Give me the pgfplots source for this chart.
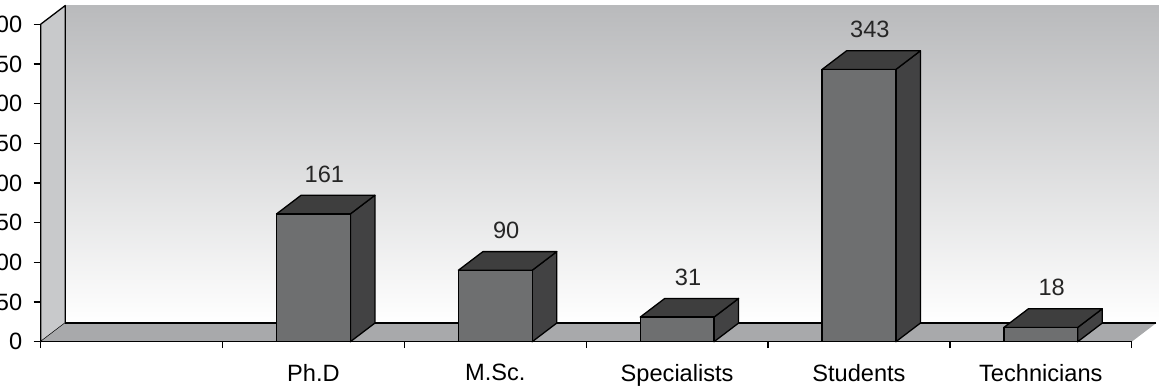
\documentclass[border=0pt]{standalone}
\usepackage{pgfplots}
\pgfplotsset{compat=1.18}
\usepackage{fontspec}
\setmainfont{Liberation Sans}
\newcommand{\fs}{\fontsize{23.6}{28.3}\selectfont}
\definecolor{wallTop}{RGB}{185,186,188}
\definecolor{sideWall}{RGB}{200,201,203}
\definecolor{floorC}{RGB}{168,169,171}
\definecolor{barFront}{RGB}{110,111,112}
\definecolor{barTop}{RGB}{62,62,62}
\definecolor{barSide}{RGB}{66,66,67}
\begin{document}
\begin{tikzpicture}
\begin{axis}[
  scale only axis, width=1091pt, height=317.5pt,
  xmin=-0.5, xmax=5.5, ymin=0, ymax=400,
  clip=false,
  axis line style={draw=none},
  tick pos=left,
  tick align=outside,
  ytick={0,50,...,400},
  xtick={0,...,5},
  xticklabels={,Ph.D,M.Sc.,Specialists,Students,Technicians},
  minor xtick={-0.5,0.5,...,5.5},
  major x tick style={draw=none},
  major tick length=7pt, minor tick length=6.5pt,
  tick style={black, line width=1.3pt},
  ticklabel style={font=\fs},
  yticklabel style={xshift=-8pt},
  xticklabel style={yshift=-12pt},
  /pgf/number format/assume math mode=true,
]
% back wall
\addplot[draw=none, top color=wallTop, bottom color=white] coordinates {(-0.365,23.5) (5.65,23.5) (5.65,423.5) (-0.365,423.5)} -- cycle;
% left wall
\addplot[fill=sideWall, draw=black, line width=1.3pt, line join=round] coordinates {(-0.5,0) (-0.365,23.5) (-0.365,423.5) (-0.5,400)} -- cycle;
% floor
\addplot[fill=floorC, draw=none] coordinates {(-0.5,0) (5.5,0) (5.635,23.5) (-0.365,23.5)} -- cycle;
\addplot[black, line width=1.3pt] coordinates {(-0.365,23.5) (5.635,23.5)};
\addplot[black, line width=1.3pt] coordinates {(-0.5,0) (5.5,0)};
% side faces
\addplot[fill=barSide, draw=black, line width=1.3pt, line join=round] coordinates {(1.203,0) (1.203,161) (1.338,184.5) (1.338,23.5)} -- cycle;
\addplot[fill=barSide, draw=black, line width=1.3pt, line join=round] coordinates {(2.203,0) (2.203,90) (2.338,113.5) (2.338,23.5)} -- cycle;
\addplot[fill=barSide, draw=black, line width=1.3pt, line join=round] coordinates {(3.203,0) (3.203,31) (3.338,54.5) (3.338,23.5)} -- cycle;
\addplot[fill=barSide, draw=black, line width=1.3pt, line join=round] coordinates {(4.203,0) (4.203,343) (4.338,366.5) (4.338,23.5)} -- cycle;
\addplot[fill=barSide, draw=black, line width=1.3pt, line join=round] coordinates {(5.203,0) (5.203,18) (5.338,41.5) (5.338,23.5)} -- cycle;
% top faces
\addplot[fill=barTop, draw=black, line width=1.3pt, line join=round] coordinates {(0.797,161) (0.932,184.5) (1.338,184.5) (1.203,161)} -- cycle;
\addplot[fill=barTop, draw=black, line width=1.3pt, line join=round] coordinates {(1.797,90) (1.932,113.5) (2.338,113.5) (2.203,90)} -- cycle;
\addplot[fill=barTop, draw=black, line width=1.3pt, line join=round] coordinates {(2.797,31) (2.932,54.5) (3.338,54.5) (3.203,31)} -- cycle;
\addplot[fill=barTop, draw=black, line width=1.3pt, line join=round] coordinates {(3.797,343) (3.932,366.5) (4.338,366.5) (4.203,343)} -- cycle;
\addplot[fill=barTop, draw=black, line width=1.3pt, line join=round] coordinates {(4.797,18) (4.932,41.5) (5.338,41.5) (5.203,18)} -- cycle;
% front faces
\addplot[ybar, bar width=0.406, bar shift=0pt, fill=barFront, draw=black, line width=1.3pt] coordinates {(1,161) (2,90) (3,31) (4,343) (5,18)};
% value labels
\addplot[draw=none, nodes near coords, point meta=explicit symbolic,
  every node near coord/.append style={font=\fs, inner sep=0pt, yshift=12.4pt, text=black!85}]
  coordinates {(1.06,184.5) [161] (2.06,113.5) [90] (3.06,54.5) [31] (4.06,366.5) [343] (5.06,41.5) [18]};
\coordinate (BL) at (rel axis cs:0,0);
\coordinate (TR) at (rel axis cs:1,1);
\end{axis}
\pgfresetboundingbox
\useasboundingbox ([xshift=-40.7pt,yshift=-43.3pt]BL) rectangle ([xshift=30.3pt,yshift=24.2pt]TR);
\end{tikzpicture}
\end{document}
